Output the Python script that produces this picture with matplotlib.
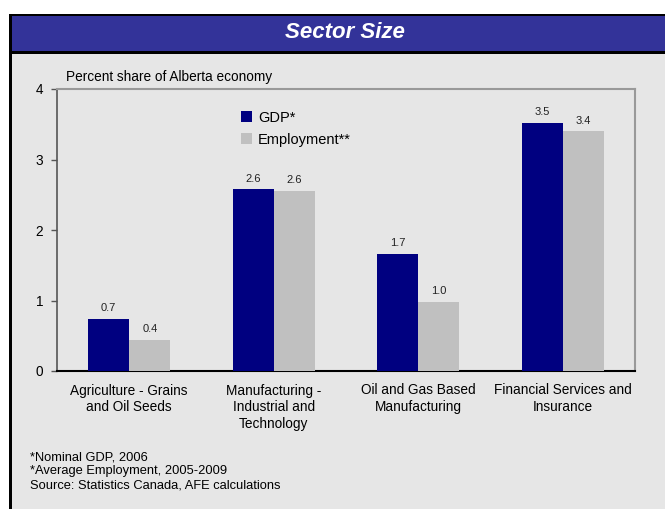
import numpy as np
from matplotlib import pyplot as plt
from matplotlib.patches import Rectangle

plt.rcParams['font.family'] = ['Liberation Sans', 'DejaVu Sans']

categories = ["Agriculture - Grains\nand Oil Seeds",
              "Manufacturing -\nIndustrial and\nTechnology",
              "Oil and Gas Based\nManufacturing",
              "Financial Services and\nInsurance"]
gdp = [0.74, 2.58, 1.66, 3.52]
employment = [0.44, 2.56, 0.98, 3.40]
series_names = ["GDP*", "Employment**"]
yticks = [0, 1, 2, 3, 4]
footnotes = ["*Nominal GDP, 2006",
             "*Average Employment, 2005-2009",
             "Source: Statistics Canada, AFE calculations"]

W, H = 665, 509
fig = plt.figure(figsize=(W / 100, H / 100), dpi=100, facecolor="white")


def band(x_left, y_top, y_bottom, color):
    # filled band from x_left (px) to past the right edge, y in px from the top
    fig.add_artist(Rectangle((x_left / W, 1 - y_bottom / H), (W + 10 - x_left) / W,
                             (y_bottom - y_top) / H, transform=fig.transFigure,
                             facecolor=color, edgecolor="none", zorder=0))


# outer frame, body and title bar
band(9, 14, H + 10, "black")
band(12, 54, H + 10, "#E6E6E6")
band(12, 16, 51, "#333399")
fig.text(345 / W, 1 - 32 / H, "Sector Size", color="white", fontsize=16, fontweight="bold",
         fontstyle="italic", ha="center", va="center")

ax = fig.add_axes([57 / W, 1 - 371 / H, (635 - 57) / W, (371 - 89) / H])
ax.set_facecolor("#E6E6E6")

X = np.arange(len(categories))
width = 0.285
b1 = ax.bar(X - width / 2, gdp, width=width, color="#000080", label=series_names[0], zorder=3)
b2 = ax.bar(X + width / 2, employment, width=width, color="#C0C0C0", label=series_names[1], zorder=3)

for bars in (b1, b2):
    ax.bar_label(bars, labels=[f"{v:.1f}" for v in bars.datavalues], padding=4,
                 fontsize=8, color="#222222")

ax.set_xlim(-0.5, len(categories) - 0.5)
ax.set_ylim(0, 4)
ax.set_yticks(yticks)
ax.set_xticks(X)
ax.set_xticklabels(categories, fontsize=9.8, linespacing=1.25)
ax.tick_params(axis="x", length=0, pad=9)
ax.tick_params(axis="y", length=4, width=1, color="#555555", labelsize=9.8, pad=6)

for s in ("top", "right"):
    ax.spines[s].set_color("#999999")
    ax.spines[s].set_linewidth(1.5)
ax.spines["left"].set_color("#555555")
ax.spines["left"].set_linewidth(1.2)
ax.spines["bottom"].set_color("black")
ax.spines["bottom"].set_linewidth(1.5)

ax.legend(loc="upper left", bbox_to_anchor=(0.295, 0.97), frameon=False, fontsize=10.5,
          handlelength=0.8, handleheight=0.8, handletextpad=0.4, labelspacing=0.55)

fig.text(66 / W, 1 - 77 / H, "Percent share of Alberta economy", fontsize=9.8,
         ha="left", va="center")

for i, line in enumerate(footnotes):
    fig.text(30 / W, 1 - (457 + i * 14) / H, line, fontsize=9.3, ha="left", va="center")

fig.savefig("out.png", dpi=100, facecolor=fig.get_facecolor())
